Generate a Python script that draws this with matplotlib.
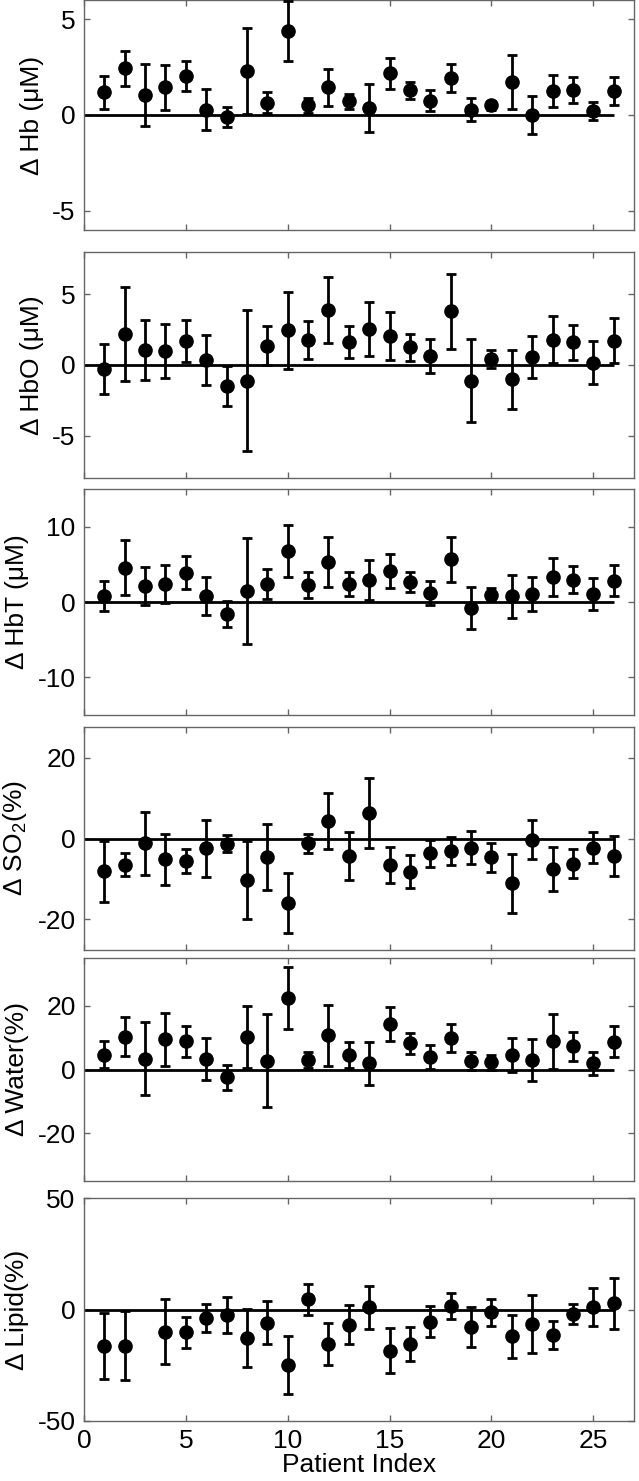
import numpy as np
import matplotlib
matplotlib.use('Agg')
import matplotlib.pyplot as plt

# Шрифт похожий на Arial
plt.rcParams['font.family'] = ['Liberation Sans', 'DejaVu Sans']
plt.rcParams['mathtext.fontset'] = 'custom'
plt.rcParams['mathtext.rm'] = 'Liberation Sans'
plt.rcParams['mathtext.it'] = 'Liberation Sans:italic'
plt.rcParams['axes.unicode_minus'] = False

# Данные
patients = list(range(1, 27))

hb = [1.18, 2.43, 1.04, 1.44, 2.05, 0.28, -0.12, 2.29, 0.64, 4.38, 0.50, 1.44, 0.71,
      0.38, 2.17, 1.30, 0.75, 1.93, 0.28, 0.50, 1.72, 0.00, 1.27, 1.32, 0.21, 1.25]
hb_err = [0.86, 0.93, 1.62, 1.17, 0.78, 1.07, 0.52, 2.23, 0.56, 1.55, 0.40, 0.97, 0.40,
          1.26, 0.82, 0.44, 0.55, 0.74, 0.60, 0.25, 1.40, 1.00, 0.83, 0.67, 0.49, 0.73]

hbo = [-0.29, 2.19, 1.07, 0.98, 1.71, 0.36, -1.48, -1.10, 1.36, 2.45, 1.76, 3.88, 1.62,
       2.55, 2.05, 1.26, 0.64, 3.79, -1.10, 0.43, -1.02, 0.55, 1.79, 1.60, 0.17, 1.71]
hbo_err = [1.75, 3.30, 2.15, 1.90, 1.50, 1.75, 1.40, 5.00, 1.37, 2.70, 1.35, 2.35, 1.15,
           1.90, 1.70, 0.95, 1.20, 2.65, 2.95, 0.65, 2.10, 1.50, 1.65, 1.25, 1.55, 1.60]

hbt = [0.80, 4.57, 2.13, 2.40, 3.87, 0.76, -1.56, 1.47, 2.44, 6.76, 2.27, 5.29, 2.40,
       2.93, 4.13, 2.67, 1.20, 5.69, -0.84, 0.98, 0.76, 1.07, 3.29, 2.98, 1.07, 2.80]
hbt_err = [1.95, 3.60, 2.50, 2.50, 2.20, 2.50, 1.75, 7.00, 2.00, 3.50, 1.70, 3.30, 1.60,
           2.60, 2.25, 1.35, 1.65, 3.00, 2.80, 0.85, 2.85, 2.25, 2.55, 1.80, 2.10, 2.05]

so2 = [-8.1, -6.5, -1.2, -5.2, -5.6, -2.4, -1.3, -10.3, -4.6, -16.0, -1.2, 4.3, -4.3,
       6.3, -6.5, -8.2, -3.7, -3.2, -2.3, -4.7, -11.1, -0.3, -7.6, -6.3, -2.3, -4.4]
so2_err = [7.6, 2.9, 7.8, 6.3, 2.95, 7.1, 2.1, 9.6, 8.3, 7.4, 2.4, 6.95, 5.9,
           8.75, 4.5, 4.2, 3.3, 3.45, 4.15, 3.5, 7.35, 4.9, 5.45, 3.6, 3.85, 5.0]

water = [4.7, 10.3, 3.4, 9.5, 8.8, 3.3, -2.5, 10.3, 2.8, 22.5, 3.0, 10.7, 4.6,
         1.9, 14.3, 8.3, 4.0, 9.9, 2.7, 2.2, 4.6, 3.1, 8.8, 7.3, 1.9, 8.7]
water_err = [4.2, 6.15, 11.5, 8.3, 4.9, 6.6, 3.85, 9.7, 14.6, 9.75, 2.5, 9.5, 4.05,
             6.7, 5.2, 3.3, 3.7, 4.25, 2.7, 2.2, 5.35, 6.6, 8.6, 4.5, 3.5, 4.9]

# у пациента 3 нет значения липидов
lipid = [-16.2, -16.2, np.nan, -9.9, -10.3, -3.8, -2.6, -12.9, -5.9, -24.9, 4.5, -15.6, -6.9,
         0.9, -18.4, -15.6, -5.4, 1.7, -8.0, -1.2, -12.1, -6.5, -11.4, -2.0, 1.2, 2.7]
lipid_err = [14.8, 15.5, np.nan, 14.4, 7.1, 6.2, 8.0, 13.0, 9.5, 13.0, 7.0, 9.4, 8.7,
             9.6, 9.9, 7.7, 6.9, 5.8, 9.0, 6.0, 9.5, 12.9, 6.4, 4.3, 8.5, 11.4]

labels = ['Δ Hb (μM)', 'Δ HbO (μM)', 'Δ HbT (μM)',
          'Δ SO$_2$(%)', 'Δ Water(%)', 'Δ Lipid(%)']
series = [(hb, hb_err), (hbo, hbo_err), (hbt, hbt_err),
          (so2, so2_err), (water, water_err), (lipid, lipid_err)]
ylims = [6, 8, 15, 27.7, 35, 50]
yticks = [[-5, 0, 5], [-5, 0, 5], [-10, 0, 10], [-20, 0, 20], [-20, 0, 20], [-50, 0, 50]]

# положение панелей в пикселях (сверху, снизу)
W, H = 639, 1481
panels_px = [(0, 230), (252, 478), (489, 715), (727, 950), (958, 1181), (1198, 1421)]

fig = plt.figure(figsize=(W / 100, H / 100), dpi=100)

for i in range(6):
    top, bot = panels_px[i]
    ax = fig.add_axes([84 / W, 1 - bot / H, 550 / W, (bot - top) / H])
    y, err = series[i]

    ax.hlines(0, 0, len(patients), color='black', linewidth=2, zorder=2)
    ax.errorbar(patients, y, yerr=err, fmt='o', color='black', markersize=9.5,
                elinewidth=2, capsize=3.8, capthick=2, zorder=3)

    ax.set_xlim(0, 27)
    ax.set_ylim(-ylims[i], ylims[i])
    ax.set_xticks([0, 5, 10, 15, 20, 25])
    ax.set_yticks(yticks[i])
    ax.tick_params(direction='in', top=True, right=True, length=4, width=1,
                   color='0.4', labelsize=19, pad=6)
    for s in ax.spines.values():
        s.set_color('0.4')
        s.set_linewidth(1)
    ax.set_ylabel(labels[i], fontsize=19, labelpad=6)

    if i < 5:
        ax.tick_params(labelbottom=False)
    else:
        ax.set_xlabel('Patient Index', fontsize=19, labelpad=0)

plt.savefig('out.png', dpi=100)
